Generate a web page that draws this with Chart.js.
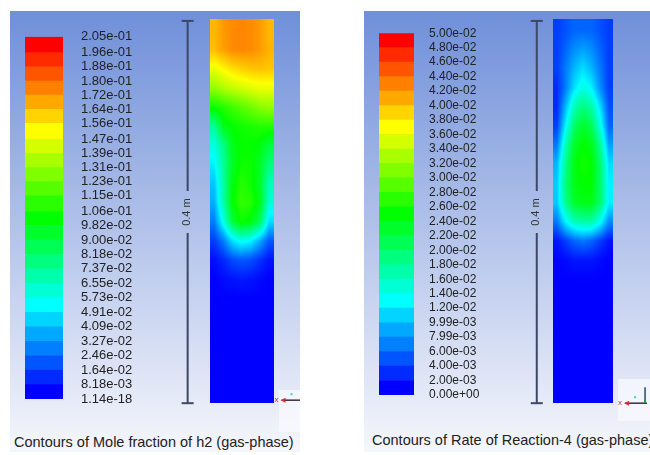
<!DOCTYPE html>
<html>
<head>
<meta charset="utf-8">
<script src="https://cdn.jsdelivr.net/npm/chart.js@4.4.1/dist/chart.umd.min.js"></script>
<style>
html, body { margin: 0; padding: 0; background: #fff; }
#stage { position: relative; width: 650px; height: 455px; overflow: hidden; font-family: 'Liberation Sans', Arial, sans-serif; }
.panel { position: absolute; top: 11px; height: 441px; background: linear-gradient(#6f8fd9, #f6f7fc); }
.box { position: absolute; background: rgba(250, 251, 255, 0.7); }
.cap { position: absolute; font-size: 14.5px; line-height: 17px; color: #222; white-space: nowrap; }
canvas { position: absolute; }
</style>
</head>
<body>
<div id="stage">
	<div class="panel" style="left:10px;width:290px"></div>
	<div class="panel" style="left:364px;width:286px"></div>
	<div class="box" style="left:279px;top:390px;width:21px;height:42px"></div>
	<div class="box" style="left:618px;top:379px;width:32px;height:42px"></div>
	<canvas id="cbH2" width="130" height="420" style="left:25px;top:11px;width:130px;height:420px"></canvas>
	<canvas id="cbRate" width="130" height="420" style="left:379px;top:11px;width:130px;height:420px"></canvas>
	<canvas id="domH2" width="130" height="404" style="left:170px;top:11px;width:130px;height:404px"></canvas>
	<canvas id="domRate" width="130" height="404" style="left:520px;top:11px;width:130px;height:404px"></canvas>
	<div class="cap" style="left:14px;top:434px">Contours of Mole fraction of h2 (gas-phase)</div>
	<div class="cap" style="left:372px;top:432px">Contours of Rate of Reaction-4 (gas-phase)</div>
</div>
<script>
// colour bar levels, top to bottom, as printed
const h2Labels = ['2.05e-01', '1.96e-01', '1.88e-01', '1.80e-01', '1.72e-01', '1.64e-01', '1.56e-01',
	'1.47e-01', '1.39e-01', '1.31e-01', '1.23e-01', '1.15e-01', '1.06e-01', '9.82e-02', '9.00e-02',
	'8.18e-02', '7.37e-02', '6.55e-02', '5.73e-02', '4.91e-02', '4.09e-02', '3.27e-02', '2.46e-02',
	'1.64e-02', '8.18e-03', '1.14e-18'];
const rateLabels = ['5.00e-02', '4.80e-02', '4.60e-02', '4.40e-02', '4.20e-02', '4.00e-02', '3.80e-02',
	'3.60e-02', '3.40e-02', '3.20e-02', '3.00e-02', '2.80e-02', '2.60e-02', '2.40e-02', '2.20e-02',
	'2.00e-02', '1.80e-02', '1.60e-02', '1.40e-02', '1.20e-02', '9.99e-03', '7.99e-03', '6.00e-03',
	'4.00e-03', '2.00e-03', '0.00e+00'];

// field values: 20 rows (top -> bottom, 0.02 m each) x 7 columns
const h2Field = [
	[0.168, 0.174, 0.177, 0.178, 0.177, 0.174, 0.168],
	[0.167, 0.173, 0.177, 0.178, 0.177, 0.174, 0.169],
	[0.150, 0.155, 0.160, 0.163, 0.165, 0.166, 0.165],
	[0.132, 0.138, 0.142, 0.145, 0.148, 0.150, 0.150],
	[0.105, 0.110, 0.115, 0.120, 0.125, 0.130, 0.132],
	[0.072, 0.098, 0.103, 0.106, 0.108, 0.110, 0.110],
	[0.057, 0.075, 0.098, 0.103, 0.103, 0.100, 0.090],
	[0.048, 0.072, 0.095, 0.105, 0.105, 0.095, 0.078],
	[0.040, 0.070, 0.100, 0.110, 0.105, 0.095, 0.065],
	[0.035, 0.068, 0.102, 0.113, 0.110, 0.098, 0.060],
	[0.025, 0.055, 0.090, 0.105, 0.100, 0.085, 0.045],
	[0.012, 0.025, 0.045, 0.055, 0.050, 0.035, 0.018],
	[0.003, 0.008, 0.015, 0.018, 0.016, 0.010, 0.004],
	[0.000, 0.002, 0.004, 0.005, 0.004, 0.002, 0.000],
	[0, 0, 0, 0, 0, 0, 0],
	[0, 0, 0, 0, 0, 0, 0],
	[0, 0, 0, 0, 0, 0, 0],
	[0, 0, 0, 0, 0, 0, 0],
	[0, 0, 0, 0, 0, 0, 0],
	[0, 0, 0, 0, 0, 0, 0]
];
const rateField = [
	[0.003, 0.004, 0.005, 0.005, 0.005, 0.004, 0.003],
	[0.003, 0.005, 0.007, 0.008, 0.007, 0.005, 0.003],
	[0.003, 0.006, 0.009, 0.011, 0.009, 0.006, 0.003],
	[0.002, 0.006, 0.011, 0.014, 0.012, 0.007, 0.003],
	[0.002, 0.009, 0.016, 0.019, 0.017, 0.011, 0.004],
	[0.003, 0.012, 0.020, 0.023, 0.021, 0.014, 0.005],
	[0.006, 0.016, 0.023, 0.025, 0.024, 0.018, 0.008],
	[0.009, 0.018, 0.024, 0.026, 0.025, 0.020, 0.011],
	[0.010, 0.019, 0.024, 0.025, 0.025, 0.020, 0.012],
	[0.010, 0.018, 0.023, 0.024, 0.024, 0.020, 0.012],
	[0.006, 0.012, 0.016, 0.017, 0.017, 0.013, 0.007],
	[0.001, 0.003, 0.005, 0.006, 0.005, 0.003, 0.001],
	[0.000, 0.0005, 0.001, 0.001, 0.001, 0.0005, 0.000],
	[0, 0, 0, 0, 0, 0, 0],
	[0, 0, 0, 0, 0, 0, 0],
	[0, 0, 0, 0, 0, 0, 0],
	[0, 0, 0, 0, 0, 0, 0],
	[0, 0, 0, 0, 0, 0, 0],
	[0, 0, 0, 0, 0, 0, 0],
	[0, 0, 0, 0, 0, 0, 0]
];

const domainHeight = 0.4;   // m, also the scale bar length
const scaleBarText = '0.4 m';
const h2Width = 0.073;      // m
const rateWidth = 0.069;    // m

const FONT = "'Liberation Sans', Arial, sans-serif";

// fluent style rainbow: blue -> cyan -> green -> yellow -> red
function rainbow(t) {
	t = Math.max(0, Math.min(1, t));
	const h = (1 - t) * 4;
	const i = Math.min(Math.floor(h), 4), f = h - i;
	let r = 0, g = 0, b = 0;
	if (i === 0) { r = 255; g = f * 255; }
	else if (i === 1) { r = (1 - f) * 255; g = 255; }
	else if (i === 2) { g = 255; b = f * 255; }
	else if (i === 3) { g = (1 - f) * 255; b = 255; }
	else { b = 255; }
	return [r | 0, g | 0, b | 0];
}

function colorbar(id, labels, o) {
	const levels = labels.map(Number);
	const sorted = levels.slice().sort((a, b) => a - b);
	const datasets = [];
	for (let k = 0; k < sorted.length - 1; k++) {
		datasets.push({
			data: [[sorted[k], sorted[k + 1]]],
			backgroundColor: `rgb(${rainbow(k / (sorted.length - 2))})`,
			borderWidth: 0,
			barPercentage: 1,
			categoryPercentage: 1,
			grouped: false
		});
	}
	new Chart(document.getElementById(id), {
		type: 'bar',
		data: { labels: [''], datasets },
		options: {
			responsive: false,
			animation: false,
			layout: { padding: { top: o.top, bottom: o.bottom, left: 0, right: 0 } },
			plugins: { legend: { display: false }, tooltip: { enabled: false } },
			scales: {
				x: { display: false },
				y: {
					position: 'right',
					min: sorted[0],
					max: sorted[sorted.length - 1],
					grid: { display: false, drawTicks: false },
					border: { display: false },
					afterBuildTicks: s => { s.ticks = sorted.map(v => ({ value: v })); },
					afterFit: s => { s.width = o.axisWidth; },
					ticks: {
						autoSkip: false,
						padding: o.pad,
						color: '#222',
						font: { family: FONT, size: o.size },
						callback: v => labels[levels.indexOf(v)]
					}
				}
			}
		}
	});
}

function domain(id, field, vmax, width, xmin, xmax, barX, triad) {
	const rows = field.length, cols = field[0].length;
	const fieldPlugin = {
		id: 'field',
		beforeDatasetsDraw(chart) {
			const xs = chart.scales.x, ys = chart.scales.y, ctx = chart.ctx;
			const x0 = Math.round(xs.getPixelForValue(0)), x1 = Math.round(xs.getPixelForValue(width));
			const y0 = Math.round(ys.getPixelForValue(ys.max)), y1 = Math.round(ys.getPixelForValue(0));
			const w = x1 - x0, h = y1 - y0;
			const off = document.createElement('canvas');
			off.width = w; off.height = h;
			const octx = off.getContext('2d');
			const img = octx.createImageData(w, h);
			for (let py = 0; py < h; py++) {
				const v = ys.getValueForPixel(y0 + py + 0.5);
				let r = (domainHeight - v) / domainHeight * rows - 0.5;
				r = Math.max(0, Math.min(rows - 1, r));
				const r0 = Math.floor(r), r1 = Math.min(rows - 1, r0 + 1), fr = r - r0;
				for (let px = 0; px < w; px++) {
					const u = xs.getValueForPixel(x0 + px + 0.5);
					let c = u / width * cols - 0.5;
					c = Math.max(0, Math.min(cols - 1, c));
					const c0 = Math.floor(c), c1 = Math.min(cols - 1, c0 + 1), fc = c - c0;
					const val = (field[r0][c0] * (1 - fc) + field[r0][c1] * fc) * (1 - fr) +
						(field[r1][c0] * (1 - fc) + field[r1][c1] * fc) * fr;
					const col = rainbow(val / vmax);
					const i = (py * w + px) * 4;
					img.data[i] = col[0]; img.data[i + 1] = col[1]; img.data[i + 2] = col[2]; img.data[i + 3] = 255;
				}
			}
			octx.putImageData(img, 0, 0);
			ctx.drawImage(off, x0, y0);
		},
		afterDatasetsDraw(chart) {
			const xs = chart.scales.x, ys = chart.scales.y, ctx = chart.ctx;
			// scale bar label
			ctx.save();
			ctx.translate(xs.getPixelForValue(barX) - 1, ys.getPixelForValue(domainHeight / 2));
			ctx.rotate(-Math.PI / 2);
			ctx.font = '11px ' + FONT;
			ctx.fillStyle = '#333';
			ctx.textAlign = 'center';
			ctx.textBaseline = 'middle';
			ctx.fillText(scaleBarText, 0, 0);
			ctx.restore();
			// little axis triad at the bottom right corner
			const cx = xs.getPixelForValue(width) + triad.dx, cy = ys.getPixelForValue(0) + triad.dy;
			ctx.save();
			ctx.lineWidth = 1.5;
			ctx.strokeStyle = '#3a2a3a';
			ctx.beginPath(); ctx.moveTo(cx + 6, cy); ctx.lineTo(cx + 28, cy); ctx.stroke();
			ctx.strokeStyle = '#2a4a6a';
			ctx.beginPath(); ctx.moveTo(cx + 26, cy); ctx.lineTo(cx + 26, cy - 16); ctx.stroke();
			ctx.fillStyle = '#d03030';
			ctx.beginPath(); ctx.moveTo(cx + 5, cy); ctx.lineTo(cx + 10, cy - 2.5); ctx.lineTo(cx + 10, cy + 2.5); ctx.fill();
			ctx.font = '8px ' + FONT;
			ctx.textAlign = 'center';
			ctx.textBaseline = 'middle';
			ctx.fillText('x', cx + 1, cy);
			ctx.fillStyle = '#40d0e0';
			ctx.fillRect(cx + 15, cy - 7, 2, 2);
			ctx.fillStyle = '#20a040';
			ctx.fillRect(cx + 25, cy - 3, 2, 3);
			ctx.restore();
		}
	};
	const bar = [
		{ x: barX, y: 0 },
		{ x: barX, y: domainHeight * 0.445 },
		{ x: barX, y: null },
		{ x: barX, y: domainHeight * 0.555 },
		{ x: barX, y: domainHeight }
	];
	new Chart(document.getElementById(id), {
		type: 'scatter',
		data: {
			datasets: [{
				data: bar,
				showLine: true,
				spanGaps: false,
				borderColor: '#3c4866',
				borderWidth: 2,
				pointStyle: 'line',
				pointRadius: [6, 0, 0, 0, 6],
				pointBorderWidth: 2,
				pointBorderColor: '#3c4866',
				clip: false
			}]
		},
		options: {
			responsive: false,
			animation: false,
			layout: { padding: 0 },
			plugins: { legend: { display: false }, tooltip: { enabled: false } },
			scales: {
				x: { type: 'linear', display: false, min: xmin, max: xmax },
				y: { type: 'linear', display: false, min: -0.004, max: 0.402 }
			}
		},
		plugins: [fieldPlugin]
	});
}

colorbar('cbH2', h2Labels, { top: 20, bottom: 32, axisWidth: 92, pad: 18, size: 13 });
colorbar('cbRate', rateLabels, { top: 20, bottom: 36, axisWidth: 95, pad: 15, size: 12 });
domain('domH2', h2Field, Number(h2Labels[0]), h2Width, -0.036, 0.094, -0.025, { dx: 2, dy: -3 });
domain('domRate', rateField, Number(rateLabels[0]), rateWidth, -0.028, 0.102, -0.018, { dx: 6, dy: 0 });
</script>
</body>
</html>
